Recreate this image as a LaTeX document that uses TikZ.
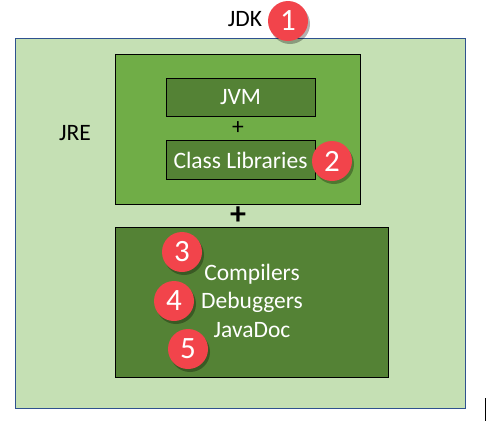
\documentclass[tikz,border=0pt]{standalone}
\usepackage{fontspec}
\setmainfont{Carlito}
\usetikzlibrary{shadows}
\definecolor{jdkfill}{HTML}{C5E0B4}
\definecolor{jdkline}{HTML}{2F528F}
\definecolor{jrefill}{HTML}{70AD47}
\definecolor{darkfill}{HTML}{548235}
\definecolor{badgered}{HTML}{F2444B}
\tikzset{
  box/.style={draw=black, line width=1pt, inner sep=0pt},
  txt/.style={font=\fontsize{23.5}{26}\selectfont, inner sep=0pt},
  wtxt/.style={txt, text=white},
  badge/.style={circle, fill=badgered, minimum size=40pt, inner sep=0pt, text=white,
    font=\fontsize{31}{33}\selectfont,
    drop shadow={shadow xshift=2pt, shadow yshift=-3pt, opacity=0.3, fill=black}},
}
\begin{document}
\begin{tikzpicture}[x=1pt, y=-1pt]
\useasboundingbox (0,0) rectangle (486,421);
\fill[white] (0,0) rectangle (486,421);
% JDK outer box
\node[box, draw=jdkline, fill=jdkfill, line width=1pt, minimum width=450pt, minimum height=370pt] (jdk) at (240,223) {};
% JRE box
\node[box, fill=jrefill, minimum width=245pt, minimum height=150pt] (jre) at (237.5,129) {};
% JVM and class libraries
\node[box, fill=darkfill, minimum width=149pt, minimum height=38pt] (jvm) at (240.5,97) {};
\node[wtxt] (jvmt) at (240.5,97) {JVM};
\node[box, fill=darkfill, minimum width=149pt, minimum height=39pt] (cl) at (240.5,159.5) {};
\node[wtxt] (clt) at (240.5,160) {Class Libraries};
\node[txt] (plus1) at (238,128) {+};
\node[inner sep=0pt, font=\fontsize{32}{34}\selectfont\bfseries] (plus2) at (238,216) {+};
% tools box
\node[box, fill=darkfill, minimum width=273pt, minimum height=150pt] (tools) at (251.5,302) {};
\node[wtxt] (comp) at (252,274) {Compilers};
\node[wtxt] (debug) at (252,302) {Debuggers};
\node[wtxt] (jdoc) at (252,330) {JavaDoc};
% labels
\node[txt] (jdkl) at (245,19) {JDK};
\node[txt] (jrel) at (75,133) {JRE};
% badges
\node[badge] (b1) at (288,21) {1};
\node[badge] (b2) at (332,161) {2};
\node[badge] (b3) at (182,252) {3};
\node[badge] (b4) at (174,301) {4};
\node[badge] (b5) at (188,349) {5};
% cursor mark
\coordinate (c1) at (485,398);
\coordinate (c2) at (485,421);
\draw[line width=1pt] (c1) -- (c2);
\end{tikzpicture}
\end{document}
